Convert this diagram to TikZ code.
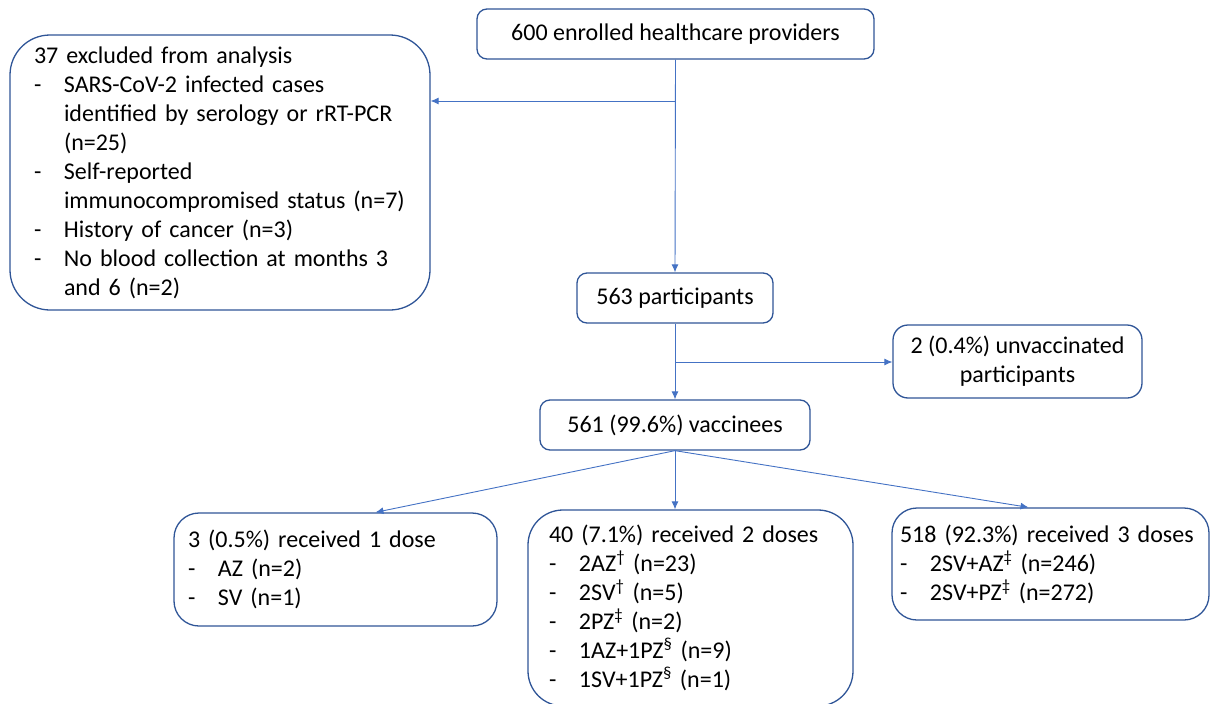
\documentclass[tikz,border=0pt]{standalone}
\usepackage{fontspec}
\setmainfont{Carlito}
\usetikzlibrary{arrows.meta}
\definecolor{boxblue}{HTML}{2F5597}
\definecolor{lineblue}{HTML}{4472C4}
\newcommand{\itm}{\makebox[30pt][l]{-}}
\newcommand{\cont}{\hspace*{30pt}}
\newcommand{\sdag}{\textsuperscript{\textdagger}}
\newcommand{\sddag}{\textsuperscript{\textdaggerdbl}}
\newcommand{\ssec}{\textsuperscript{\S}}

\begin{document}
\begin{tikzpicture}[x=1pt,y=-1pt,>={Latex[length=8pt,width=7pt]},
  box/.style={draw=boxblue,line width=1.3pt,rounded corners=10pt,inner sep=0pt,font=\fontsize{24}{29}\selectfont},
  listbox/.style={box,align=left},
  arr/.style={->,lineblue,line width=0.9pt}]
\useasboundingbox (0,0) rectangle (1210,704);
\node[box,minimum width=397pt,minimum height=50pt] (enrol) at (675.5,34) {600 enrolled healthcare providers};
\node[listbox,rounded corners=40pt,minimum width=420pt,minimum height=275pt,inner xsep=24pt,text width=372pt] (excl) at (220,172.5)
  {37 excluded from analysis\\
   \itm SARS-CoV-2 infected cases\\
   \cont identified by serology or rRT-PCR\\
   \cont (n=25)\\
   \itm Self-reported\\
   \cont immunocompromised status (n=7)\\
   \itm History of cancer (n=3)\\
   \itm No blood collection at months 3\\
   \cont and 6 (n=2)};
\node[box,minimum width=196pt,minimum height=50pt] (part) at (675,298) {563 participants};
\node[box,rounded corners=15pt,align=center,minimum width=249pt,minimum height=73pt] (unvac) at (1017.5,361.5) {2 (0.4\%) unvaccinated\\participants};
\node[box,minimum width=270pt,minimum height=50pt] (vacc) at (675,425) {561 (99.6\%) vaccinees};
\node[listbox,rounded corners=25pt,minimum width=323pt,minimum height=113pt,inner xsep=14pt,text width=295pt] (dose1) at (335.5,569.5)
  {3 (0.5\%) received 1 dose\\
   \itm AZ (n=2)\\
   \itm SV (n=1)};
\node[listbox,rounded corners=35pt,minimum width=325pt,minimum height=196pt,inner xsep=21pt,text width=283pt] (dose2) at (690.5,608)
  {40 (7.1\%) received 2 doses\\
   \itm 2AZ\sdag{} (n=23)\\
   \itm 2SV\sdag{} (n=5)\\
   \itm 2PZ\sddag{} (n=2)\\
   \itm 1AZ+1PZ\ssec{} (n=9)\\
   \itm 1SV+1PZ\ssec{} (n=1)};
\node[listbox,rounded corners=25pt,minimum width=317pt,minimum height=112pt,inner xsep=8pt,text width=301pt] (dose3) at (1050.5,564)
  {518 (92.3\%) received 3 doses\\
   \itm 2SV+AZ\sddag{} (n=246)\\
   \itm 2SV+PZ\sddag{} (n=272)};
\coordinate (j1) at (675.5,101);
\coordinate (j2) at (675.5,362);
\draw[arr] (enrol.south) -- (part.north);
\draw[arr] (j1) -- (j1 -| excl.east);
\draw[arr] (part.south) -- (vacc.north);
\draw[arr] (j2) -- (j2 -| unvac.west);
\draw[arr] (vacc.south) -- ([xshift=40pt]dose1.north);
\draw[arr] (vacc.south) -- (vacc.south |- dose2.north);
\draw[arr] (vacc.south) -- ([xshift=-22pt]dose3.north);
\end{tikzpicture}
\end{document}
